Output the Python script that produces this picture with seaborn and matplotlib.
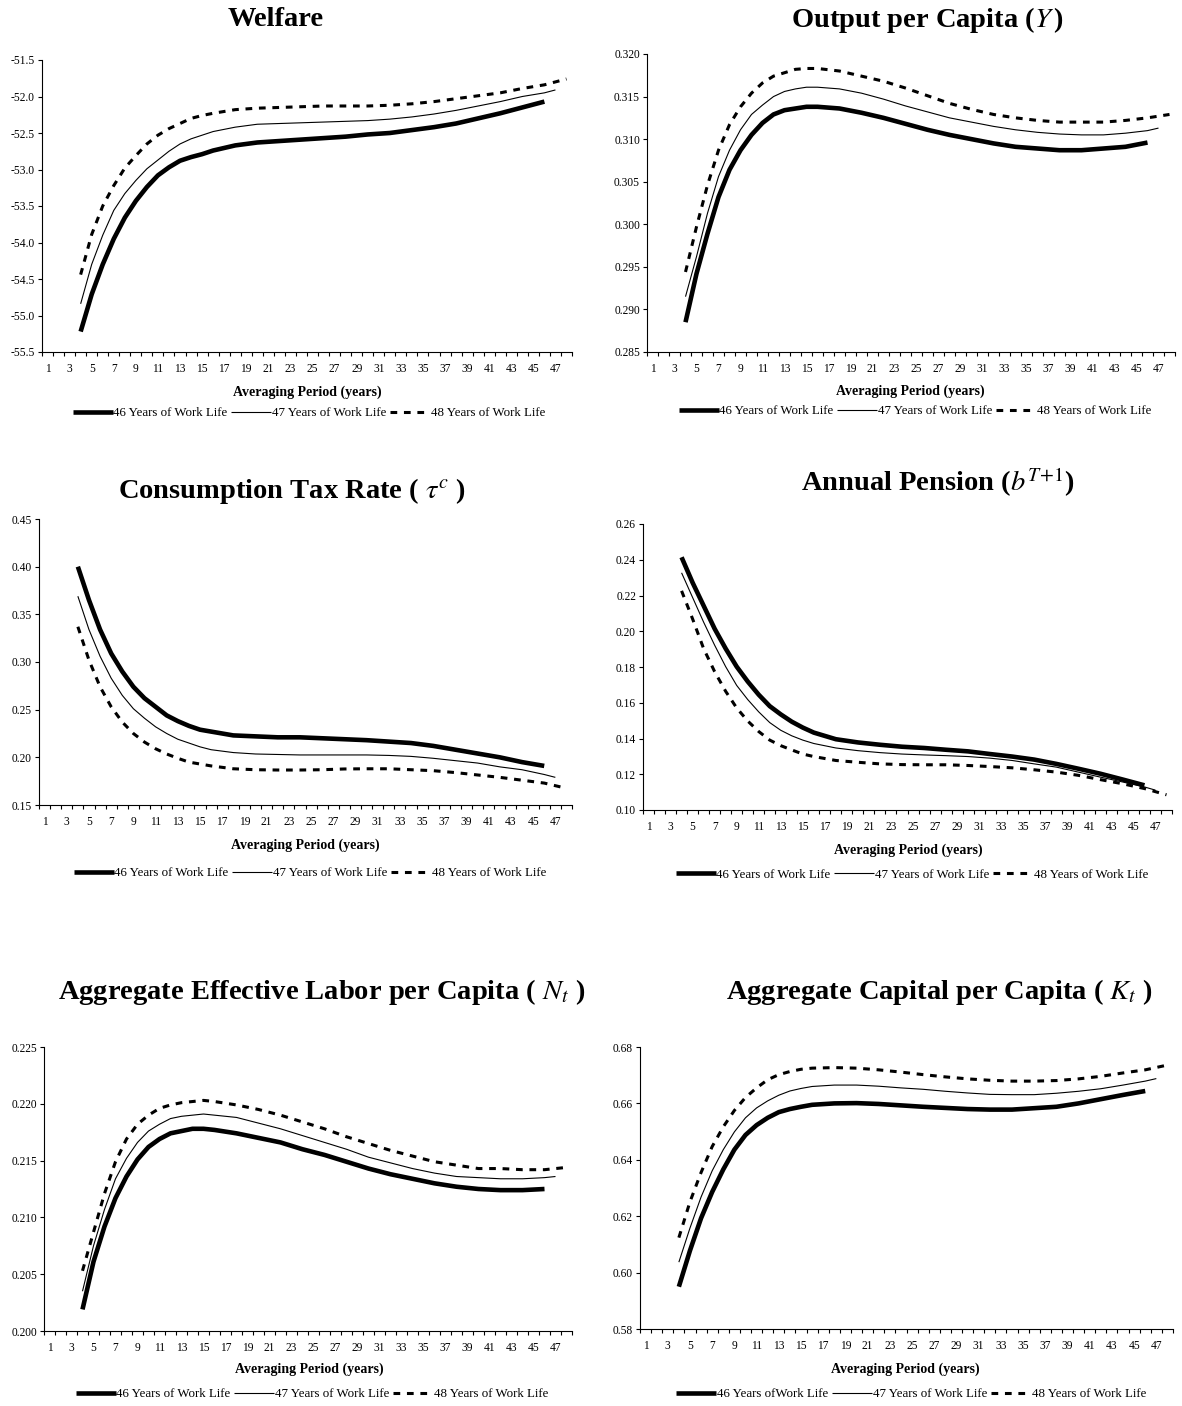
import numpy as np
import pandas as pd
import matplotlib
matplotlib.use("Agg")
import matplotlib.pyplot as plt
import seaborn as sns

# Jahre (Kategorien) auf der x-Achse
years = [4, 5, 6, 7, 8, 9, 10, 11, 12, 13, 14, 15, 16,
         18, 20, 22, 24, 26, 28, 30, 32, 34, 36, 38, 40, 42, 44, 46]
x46 = years
x47 = years + [47]
x48 = years + [48]
tick_labels = list(range(1, 48, 2))

series_names = ["46 Years of Work Life", "47 Years of Work Life", "48 Years of Work Life"]

# Welfare
welfare_46 = [-55.22, -54.71, -54.30, -53.95, -53.66, -53.43, -53.24, -53.08, -52.97, -52.88, -52.83, -52.79, -52.74,
              -52.67, -52.63, -52.61, -52.59, -52.57, -52.55, -52.52, -52.50, -52.46, -52.42, -52.37, -52.30, -52.23, -52.15, -52.07]
welfare_47 = [-54.84, -54.30, -53.90, -53.56, -53.33, -53.15, -52.99, -52.87, -52.75, -52.65, -52.58, -52.53, -52.48,
              -52.42, -52.38, -52.37, -52.36, -52.35, -52.34, -52.33, -52.31, -52.28, -52.24, -52.19, -52.13, -52.07, -52.00, -51.95,
              -51.91]
welfare_48 = [-54.44, -53.89, -53.50, -53.22, -52.98, -52.81, -52.65, -52.53, -52.44, -52.37, -52.30, -52.26, -52.23,
              -52.18, -52.16, -52.15, -52.14, -52.13, -52.13, -52.13, -52.12, -52.10, -52.07, -52.03, -51.99, -51.95, -51.89, -51.84,
              -51.76]

# Output per capita
output_46 = [0.2885, 0.2942, 0.2989, 0.3032, 0.3064, 0.3087, 0.3105, 0.3119, 0.3129, 0.3134, 0.3136, 0.3138, 0.3138,
             0.3136, 0.3131, 0.3125, 0.3118, 0.3111, 0.3105, 0.3100, 0.3095, 0.3091, 0.3089, 0.3087, 0.3087, 0.3089, 0.3091, 0.3096]
output_47 = [0.2915, 0.2962, 0.3013, 0.3056, 0.3087, 0.3111, 0.3129, 0.3140, 0.3150, 0.3156, 0.3159, 0.3161, 0.3161,
             0.3159, 0.3154, 0.3147, 0.3139, 0.3132, 0.3125, 0.3120, 0.3115, 0.3111, 0.3108, 0.3106, 0.3105, 0.3105, 0.3107, 0.3110,
             0.3113]
output_48 = [0.2944, 0.2997, 0.3046, 0.3087, 0.3117, 0.3138, 0.3154, 0.3166, 0.3174, 0.3178, 0.3182, 0.3183, 0.3183,
             0.3180, 0.3174, 0.3168, 0.3160, 0.3151, 0.3142, 0.3135, 0.3129, 0.3125, 0.3122, 0.3120, 0.3120, 0.3120, 0.3122, 0.3125,
             0.3129]

# Consumption tax rate
tax_46 = [0.400, 0.365, 0.334, 0.309, 0.290, 0.274, 0.262, 0.253, 0.244, 0.238, 0.233, 0.229, 0.227,
          0.223, 0.222, 0.221, 0.221, 0.220, 0.219, 0.218, 0.2165, 0.215, 0.212, 0.208, 0.204, 0.200, 0.195, 0.191]
tax_47 = [0.369, 0.334, 0.306, 0.283, 0.265, 0.251, 0.241, 0.232, 0.225, 0.219, 0.215, 0.211, 0.208,
          0.205, 0.2035, 0.203, 0.2025, 0.2025, 0.2025, 0.2025, 0.202, 0.201, 0.199, 0.1965, 0.194, 0.190, 0.187, 0.182,
          0.179]
tax_48 = [0.337, 0.302, 0.274, 0.253, 0.237, 0.225, 0.216, 0.209, 0.2035, 0.199, 0.195, 0.193, 0.191,
          0.188, 0.187, 0.1867, 0.1867, 0.187, 0.1878, 0.188, 0.188, 0.187, 0.186, 0.184, 0.1815, 0.179, 0.176, 0.173,
          0.1675]

# Annual pension
pension_46 = [0.2414, 0.2272, 0.2143, 0.2014, 0.1903, 0.1802, 0.1719, 0.1645, 0.1581, 0.1535, 0.1494, 0.1461, 0.1433,
              0.1396, 0.1378, 0.1365, 0.1354, 0.1347, 0.1337, 0.1328, 0.1313, 0.1299, 0.1282, 0.1258, 0.1231, 0.1203, 0.1171, 0.1138]
pension_47 = [0.2327, 0.2189, 0.2051, 0.1922, 0.1802, 0.1697, 0.1618, 0.1549, 0.1489, 0.1446, 0.1415, 0.1391, 0.1372,
              0.1347, 0.1332, 0.1321, 0.1313, 0.1308, 0.1304, 0.1299, 0.1290, 0.1277, 0.1258, 0.1240, 0.1212, 0.1184, 0.1157, 0.1129,
              0.1111]
pension_48 = [0.2226, 0.2069, 0.1903, 0.1774, 0.1664, 0.1571, 0.1498, 0.1439, 0.1391, 0.1360, 0.1336, 0.1313, 0.1299,
              0.1277, 0.1267, 0.1258, 0.1254, 0.1253, 0.1253, 0.1249, 0.1243, 0.1236, 0.1225, 0.1212, 0.1194, 0.1170, 0.1147, 0.1120,
              0.1085]

# Aggregate effective labor per capita
labor_46 = [0.2019, 0.2061, 0.2092, 0.2117, 0.2136, 0.2151, 0.2162, 0.2169, 0.2174, 0.2176, 0.2178, 0.2178, 0.2177,
            0.2174, 0.2170, 0.2166, 0.2160, 0.2155, 0.2149, 0.2143, 0.2138, 0.2134, 0.2130, 0.2127, 0.2125, 0.2124, 0.2124, 0.2125]
labor_47 = [0.2035, 0.2075, 0.2107, 0.2134, 0.2152, 0.2166, 0.2176, 0.2182, 0.2187, 0.2189, 0.2190, 0.2191, 0.2190,
            0.2188, 0.2183, 0.2178, 0.2172, 0.2166, 0.2160, 0.2153, 0.2148, 0.2143, 0.2139, 0.2136, 0.2135, 0.2134, 0.2134, 0.2135,
            0.2136]
labor_48 = [0.2053, 0.2087, 0.2121, 0.2149, 0.2169, 0.2182, 0.2190, 0.2196, 0.2199, 0.2201, 0.2202, 0.2203, 0.2202,
            0.2199, 0.2195, 0.2190, 0.2184, 0.2178, 0.2171, 0.2165, 0.2159, 0.2154, 0.2149, 0.2146, 0.2143, 0.2143, 0.2142, 0.2142,
            0.2144]

# Aggregate capital per capita
capital_46 = [0.5950, 0.6078, 0.6193, 0.6286, 0.6366, 0.6436, 0.6488, 0.6523, 0.6549, 0.6569, 0.6580, 0.6588, 0.6595,
              0.6600, 0.6601, 0.6598, 0.6593, 0.6588, 0.6584, 0.6580, 0.6578, 0.6578, 0.6583, 0.6588, 0.6600, 0.6615, 0.6630, 0.6644]
capital_47 = [0.6037, 0.6158, 0.6268, 0.6361, 0.6436, 0.6499, 0.6549, 0.6584, 0.6609, 0.6629, 0.6644, 0.6653, 0.6660,
              0.6665, 0.6665, 0.6661, 0.6655, 0.6650, 0.6643, 0.6637, 0.6632, 0.6631, 0.6631, 0.6636, 0.6643, 0.6652, 0.6665, 0.6679,
              0.6688]
capital_48 = [0.6124, 0.6251, 0.6355, 0.6447, 0.6517, 0.6575, 0.6621, 0.6655, 0.6684, 0.6702, 0.6713, 0.6721, 0.6725,
              0.6727, 0.6725, 0.6719, 0.6711, 0.6702, 0.6694, 0.6687, 0.6682, 0.6679, 0.6679, 0.6681, 0.6687, 0.6696, 0.6708, 0.6719,
              0.6736]

sns.set_style("ticks")
plt.rcParams["font.family"] = ["Liberation Serif", "DejaVu Serif"]
plt.rcParams["mathtext.fontset"] = "stix"
plt.rcParams["axes.unicode_minus"] = False
plt.rcParams["text.color"] = "black"
plt.rcParams["axes.labelcolor"] = "black"
plt.rcParams["xtick.color"] = "black"
plt.rcParams["ytick.color"] = "black"

W, H = 1182, 1406
fig = plt.figure(figsize=(W / 100, H / 100), dpi=100)

# (titel, daten, y-achse, format, achsen-box in px, titel-pos, xlabel-pos, legend-pos)
panels = [
    ("Welfare", (welfare_46, welfare_47, welfare_48), (-55.5, -51.5, 9), "{:.1f}",
     (42, 572, 60, 352), (276, 19), (307, 392), (309, 413), series_names),
    ("Output per Capita ($\\mathit{Y}\\,$)", (output_46, output_47, output_48), (0.285, 0.320, 8), "{:.3f}",
     (647, 1175, 54, 352), (927, 20), (910, 391), (915, 411), series_names),
    ("Consumption Tax Rate ( $\\tau^{c}$ )", (tax_46, tax_47, tax_48), (0.15, 0.45, 7), "{:.2f}",
     (39, 572, 519, 805), (292, 491), (305, 845), (310, 873), series_names),
    ("Annual Pension ($b^{T\\!+\\!1}$)", (pension_46, pension_47, pension_48), (0.10, 0.26, 9), "{:.2f}",
     (643, 1172, 524, 810), (938, 482), (908, 850), (912, 875), series_names),
    ("Aggregate Effective Labor per Capita ( $N_t$ )", (labor_46, labor_47, labor_48), (0.200, 0.225, 6), "{:.3f}",
     (44, 572, 1047, 1331), (322, 992), (309, 1369), (312, 1394), series_names),
    ("Aggregate Capital per Capita ( $K_t$ )", (capital_46, capital_47, capital_48), (0.58, 0.68, 6), "{:.2f}",
     (640, 1173, 1047, 1329), (939, 992), (905, 1369), (911, 1394),
     ["46 Years ofWork Life", "47 Years of Work Life", "48 Years of Work Life"]),
]

colors = {n: "black" for n in series_names}
widths = {series_names[0]: 3.3, series_names[1]: 0.8, series_names[2]: 2.2}
dash_map = {series_names[0]: "", series_names[1]: "", series_names[2]: (2.2, 2.2)}

for title, vals, ylim, fmt, box, tpos, xlpos, lgpos, labels in panels:
    l, r, t, b = box
    ax = fig.add_axes([l / W, 1 - b / H, (r - l) / W, (b - t) / H])

    df = pd.DataFrame({
        "year": x46 + x47 + x48,
        "value": list(vals[0]) + list(vals[1]) + list(vals[2]),
        "series": [series_names[0]] * len(x46) + [series_names[1]] * len(x47) + [series_names[2]] * len(x48),
    })
    sns.lineplot(data=df, x="year", y="value", hue="series", size="series", style="series",
                 palette=colors, sizes=widths, dashes=dash_map, errorbar=None,
                 legend=False, ax=ax, sort=True)
    for ln in ax.get_lines():
        ln.set_solid_capstyle("butt")
        ln.set_solid_joinstyle("round")

    ax.set_xlim(0.5, 48.5)
    ax.set_ylim(ylim[0], ylim[1])
    yt = np.linspace(ylim[0], ylim[1], ylim[2])
    ax.set_yticks(yt)
    ax.set_yticklabels([fmt.format(v) for v in yt])
    ax.set_xticks(tick_labels)
    ax.set_xticklabels([str(v) for v in tick_labels])
    ax.set_xticks(np.arange(0.5, 49, 1), minor=True)
    ax.tick_params(axis="x", which="major", length=0, pad=8, labelsize=8.3, colors="black")
    ax.tick_params(axis="x", which="minor", length=3, width=0.8, direction="out", color="black")
    ax.tick_params(axis="y", which="major", length=3, width=0.8, pad=2, labelsize=8.3, colors="black")
    ax.set_xlabel("")
    ax.set_ylabel("")
    sns.despine(ax=ax)
    for s in ("left", "bottom"):
        ax.spines[s].set_color("black")
        ax.spines[s].set_linewidth(0.8)

    fig.text(tpos[0] / W, 1 - tpos[1] / H, title, ha="center", va="center",
             fontsize=20.5, fontweight="bold", color="black")
    fig.text(xlpos[0] / W, 1 - xlpos[1] / H, "Averaging Period (years)", ha="center", va="center",
             fontsize=10, fontweight="bold", color="black")

    handles = ax.get_lines()[:3]
    ax.legend(handles, labels, loc="center", bbox_to_anchor=(lgpos[0] / W, 1 - lgpos[1] / H),
              bbox_transform=fig.transFigure, ncol=3, frameon=False, fontsize=9.3,
              handlelength=3.1, handletextpad=0.05, columnspacing=0.3, borderaxespad=0, borderpad=0)

fig.savefig("out.png", dpi=100)
